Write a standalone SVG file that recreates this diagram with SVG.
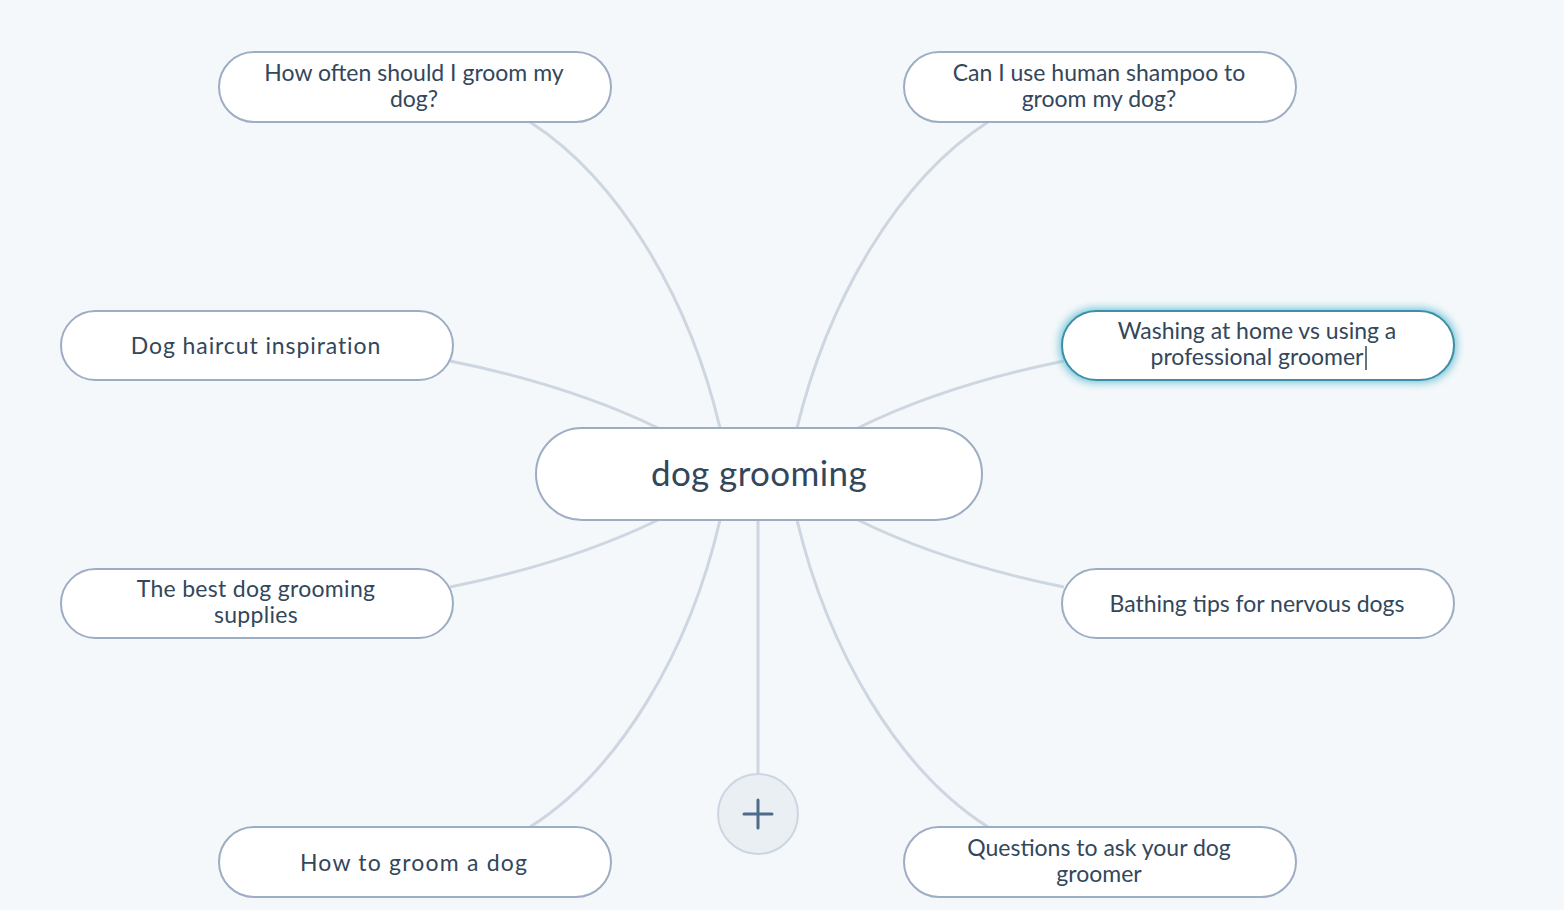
<svg xmlns="http://www.w3.org/2000/svg" width="1564" height="910" viewBox="0 0 1564 910">
<defs>
<style>
.bg{fill:#f5f8fa}
.node{fill:#ffffff;stroke:#9dadc3;stroke-width:2}
.sel{fill:#ffffff;stroke:#3e8ea6;stroke-width:2}
.t{font-family:Lato,"Noto Sans",sans-serif;fill:#33475b;font-size:23px;text-anchor:middle}
.tc{font-family:Lato,"Noto Sans",sans-serif;fill:#33475b;font-size:35px;letter-spacing:0.4px;text-anchor:middle}
.edge{fill:none;stroke:#cdd6e1;stroke-width:3}
</style>
<filter id="glow" x="-10%" y="-50%" width="120%" height="200%">
<feMorphology in="SourceAlpha" operator="dilate" radius="2" result="d"/>
<feGaussianBlur in="d" stdDeviation="5" result="blur"/>
<feFlood flood-color="#5fbdd3" flood-opacity="1"/>
<feComposite operator="in" in2="blur"/>
</filter>
</defs>
<rect class="bg" x="0" y="0" width="1564" height="910"/>
<g id="connectors">
<path class="edge" d="M720,428 C690,300 620,180 530,122"/>
<path class="edge" d="M797,428 C828,300 898,180 988,122"/>
<path class="edge" d="M658,428 C590,395 520,375 450,361"/>
<path class="edge" d="M858,428 C925,395 995,375 1064,361"/>
<path class="edge" d="M658,520 C590,553 520,573 450,587"/>
<path class="edge" d="M858,520 C925,553 995,573 1064,587"/>
<path class="edge" d="M720,520 C690,650 620,770 530,827"/>
<path class="edge" d="M797,520 C828,650 898,770 988,827"/>
<path class="edge" d="M758,520 L758,775"/>
</g>
<g id="center">
<rect class="node" x="536" y="428" width="446" height="92" rx="46"/>
<text class="tc" x="759" y="486">dog grooming</text>
</g>
<g id="n-often">
<rect class="node" x="219" y="52" width="392" height="70" rx="35"/>
<text class="t" x="414" y="81">How often should I groom my</text>
<text class="t" x="414" y="107">dog?</text>
</g>
<g id="n-shampoo">
<rect class="node" x="904" y="52" width="392" height="70" rx="35"/>
<text class="t" x="1099" y="81">Can I use human shampoo to</text>
<text class="t" x="1099" y="107">groom my dog?</text>
</g>
<g id="n-haircut">
<rect class="node" x="61" y="311" width="392" height="69" rx="34.5"/>
<text class="t" x="256" y="354" letter-spacing="0.9">Dog haircut inspiration</text>
</g>
<g id="n-washing">
<rect x="1062" y="311" width="392" height="69" rx="34.5" fill="#ffffff" filter="url(#glow)"/>
<rect class="sel" x="1062" y="311" width="392" height="69" rx="34.5"/>
<text class="t" x="1257" y="339">Washing at home vs using a</text>
<text class="t" x="1257" y="365">professional groomer</text>
<line x1="1366" y1="346" x2="1366" y2="370" stroke="#33475b" stroke-width="1.5"/>
</g>
<g id="n-supplies">
<rect class="node" x="61" y="569" width="392" height="69" rx="34.5"/>
<text class="t" x="256" y="597" letter-spacing="0.3">The best dog grooming</text>
<text class="t" x="256" y="623" letter-spacing="0.3">supplies</text>
</g>
<g id="n-bathing">
<rect class="node" x="1062" y="569" width="392" height="69" rx="34.5"/>
<text class="t" x="1257" y="612">Bathing tips for nervous dogs</text>
</g>
<g id="n-howto">
<rect class="node" x="219" y="827" width="392" height="70" rx="35"/>
<text class="t" x="414" y="871" letter-spacing="1.2">How to groom a dog</text>
</g>
<g id="n-questions">
<rect class="node" x="904" y="827" width="392" height="70" rx="35"/>
<text class="t" x="1099" y="856">Questions to ask your dog</text>
<text class="t" x="1099" y="882">groomer</text>
</g>
<g id="add">
<circle cx="758" cy="814" r="40" fill="#eaeff4" stroke="#cbd6e2" stroke-width="2"/>
<path d="M744,814 H772 M758,800 V828" stroke="#4f6a8a" stroke-width="3" stroke-linecap="round"/>
</g>
</svg>
